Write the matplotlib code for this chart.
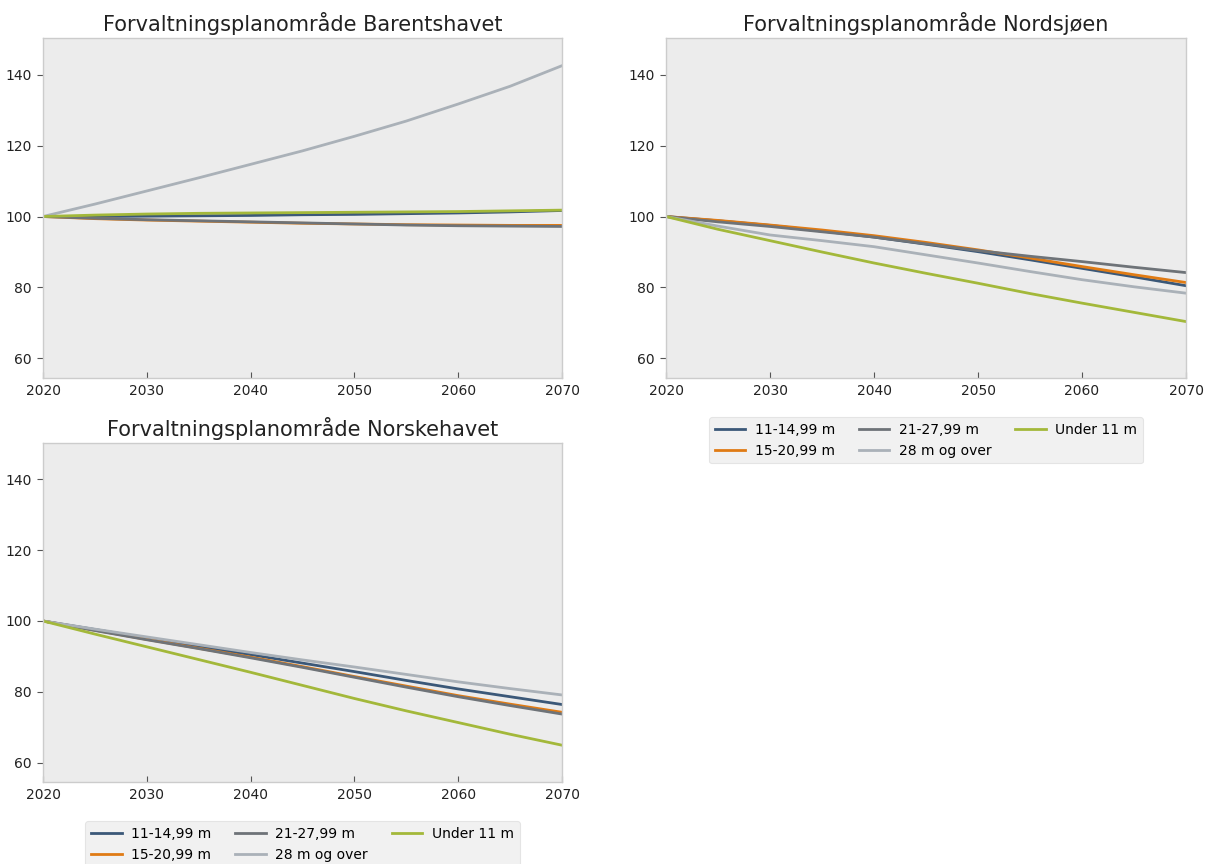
import matplotlib
matplotlib.use("Agg")
import matplotlib.pyplot as plt

years = [2020, 2025, 2030, 2035, 2040, 2045, 2050, 2055, 2060, 2065, 2070]

series_labels = ["11-14,99 m", "15-20,99 m", "21-27,99 m", "28 m og over", "Under 11 m"]
series_colors = ["#3b5878", "#e07b14", "#6e7378", "#aab1b8", "#a3b83a"]

barents = {
    "11-14,99 m":   [100, 100.0, 100.1, 100.2, 100.3, 100.5, 100.6, 100.8, 101.0, 101.3, 101.7],
    "15-20,99 m":   [100, 99.4, 99.0, 98.7, 98.4, 98.1, 97.9, 97.7, 97.6, 97.5, 97.5],
    "21-27,99 m":   [100, 99.5, 99.1, 98.8, 98.5, 98.2, 97.9, 97.6, 97.4, 97.3, 97.2],
    "28 m og over": [100, 103.5, 107.2, 110.9, 114.7, 118.5, 122.6, 126.9, 131.7, 136.7, 142.5],
    "Under 11 m":   [100, 100.4, 100.7, 100.9, 101.0, 101.1, 101.2, 101.3, 101.4, 101.6, 101.8],
}

nordsjoen = {
    "11-14,99 m":   [100, 98.8, 97.5, 95.9, 94.2, 92.2, 90.1, 87.8, 85.4, 83.0, 80.5],
    "15-20,99 m":   [100, 98.9, 97.6, 96.2, 94.6, 92.7, 90.6, 88.3, 85.9, 83.6, 81.4],
    "21-27,99 m":   [100, 98.5, 97.2, 95.7, 94.2, 92.3, 90.4, 88.8, 87.3, 85.7, 84.2],
    "28 m og over": [100, 97.3, 94.8, 93.2, 91.5, 89.2, 86.9, 84.5, 82.2, 80.2, 78.4],
    "Under 11 m":   [100, 96.4, 93.2, 90.0, 86.9, 84.0, 81.2, 78.3, 75.6, 73.0, 70.4],
}

norskehavet = {
    "11-14,99 m":   [100, 97.6, 95.2, 92.8, 90.5, 88.1, 85.7, 83.2, 80.8, 78.6, 76.4],
    "15-20,99 m":   [100, 97.4, 94.8, 92.3, 89.8, 87.1, 84.3, 81.6, 78.9, 76.5, 74.2],
    "21-27,99 m":   [100, 97.3, 94.7, 92.2, 89.6, 86.9, 84.1, 81.3, 78.6, 76.1, 73.7],
    "28 m og over": [100, 97.7, 95.5, 93.3, 91.1, 89.0, 87.0, 84.9, 82.8, 80.9, 79.1],
    "Under 11 m":   [100, 96.3, 92.7, 89.1, 85.5, 81.8, 78.1, 74.6, 71.3, 68.0, 64.9],
}

panels = [
    ("Forvaltningsplanområde Barentshavet", barents, [43, 38, 562, 378], False),
    ("Forvaltningsplanområde Nordsjøen", nordsjoen, [666, 38, 1186, 378], True),
    ("Forvaltningsplanområde Norskehavet", norskehavet, [43, 443, 562, 782], True),
]

W, H = 1210, 864
fig = plt.figure(figsize=(W / 100, H / 100), dpi=100)
fig.patch.set_facecolor("white")

for title, data, (x0, y0, x1, y1), show_legend in panels:
    ax = fig.add_axes([x0 / W, 1 - y1 / H, (x1 - x0) / W, (y1 - y0) / H])
    ax.set_facecolor("#ececec")
    for label, color in zip(series_labels, series_colors):
        ax.plot(years, data[label], color=color, lw=2, label=label)
    ax.set_xlim(2020, 2070)
    ax.set_ylim(54.5, 150.3)
    ax.set_xticks([2020, 2030, 2040, 2050, 2060, 2070])
    ax.set_yticks([60, 80, 100, 120, 140])
    for s in ax.spines.values():
        s.set_color("#cccccc")
        s.set_linewidth(1)
    ax.tick_params(axis="x", direction="in", length=4, color="#555555",
                   labelsize=10, labelcolor="#222222", pad=4)
    ax.tick_params(axis="y", direction="out", length=4, color="#555555",
                   labelsize=10, labelcolor="#222222", pad=4)
    ax.set_title(title, fontsize=15, color="#222222", pad=5)
    if show_legend:
        leg = ax.legend(loc="upper center", bbox_to_anchor=(0.5, -0.095), ncol=3,
                        fontsize=10, frameon=True, facecolor="#eeeeee",
                        edgecolor="#e0e0e0", handlelength=2.2, handletextpad=0.7,
                        columnspacing=1.7, labelspacing=0.5, borderpad=0.4)
        leg.get_frame().set_linewidth(0.8)

fig.savefig("out.png", dpi=100)
